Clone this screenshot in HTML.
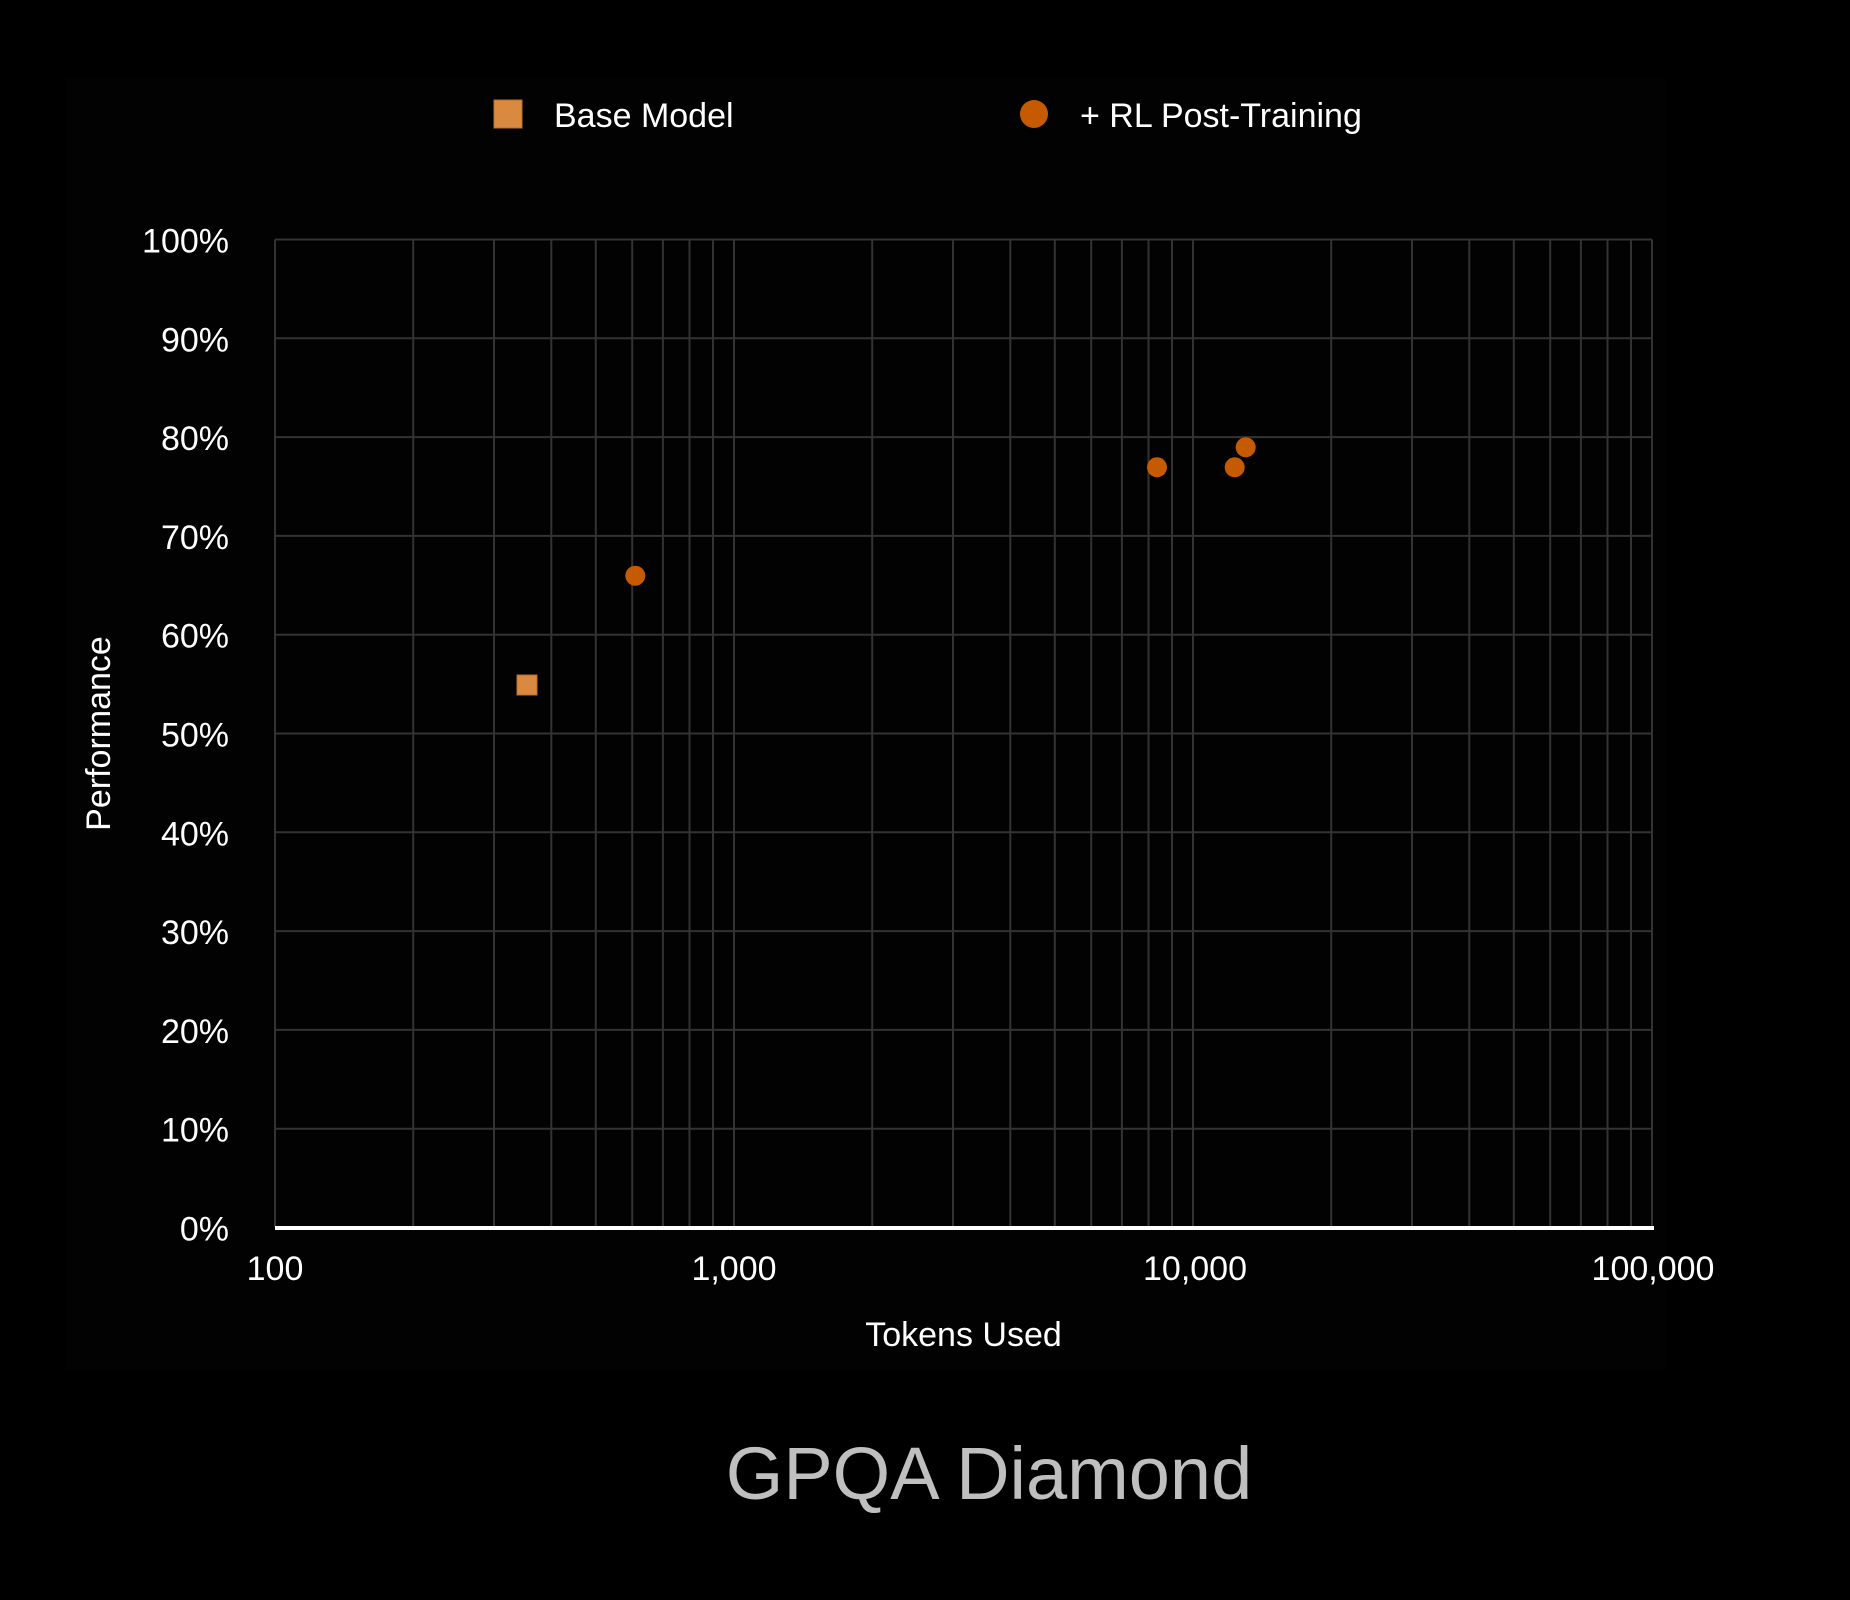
<!DOCTYPE html>
<html>
<head>
<meta charset="utf-8">
<style>
  html, body { margin:0; padding:0; background:#000; }
  svg { display:block; }
  text { font-family: "Liberation Sans", "DejaVu Sans", sans-serif; fill:#fff; }
</style>
</head>
<body>
<svg width="1850" height="1600" viewBox="0 0 1850 1600" xmlns="http://www.w3.org/2000/svg">
  <rect x="0" y="0" width="1850" height="1600" fill="#000"/>
  <rect x="66" y="78" width="1600" height="1292" fill="#020202"/>

  <!-- horizontal gridlines -->
  <g stroke="#333" stroke-width="2">
    <line x1="275" y1="239.5" x2="1652" y2="239.5"/>
    <line x1="275" y1="338.3" x2="1652" y2="338.3"/>
    <line x1="275" y1="437.1" x2="1652" y2="437.1"/>
    <line x1="275" y1="535.9" x2="1652" y2="535.9"/>
    <line x1="275" y1="634.7" x2="1652" y2="634.7"/>
    <line x1="275" y1="733.5" x2="1652" y2="733.5"/>
    <line x1="275" y1="832.3" x2="1652" y2="832.3"/>
    <line x1="275" y1="931.1" x2="1652" y2="931.1"/>
    <line x1="275" y1="1029.9" x2="1652" y2="1029.9"/>
    <line x1="275" y1="1128.7" x2="1652" y2="1128.7"/>
  </g>

  <!-- vertical gridlines (log scale, 459 px/decade, 100 at x=275) -->
  <g stroke="#333" stroke-width="2">
    <line x1="275" y1="239.5" x2="275" y2="1227"/>
    <line x1="413.2" y1="239.5" x2="413.2" y2="1227"/>
    <line x1="494" y1="239.5" x2="494" y2="1227"/>
    <line x1="551.3" y1="239.5" x2="551.3" y2="1227"/>
    <line x1="595.8" y1="239.5" x2="595.8" y2="1227"/>
    <line x1="632.2" y1="239.5" x2="632.2" y2="1227"/>
    <line x1="662.9" y1="239.5" x2="662.9" y2="1227"/>
    <line x1="689.5" y1="239.5" x2="689.5" y2="1227"/>
    <line x1="713" y1="239.5" x2="713" y2="1227"/>
    <line x1="734" y1="239.5" x2="734" y2="1227"/>
    <line x1="872.2" y1="239.5" x2="872.2" y2="1227"/>
    <line x1="953" y1="239.5" x2="953" y2="1227"/>
    <line x1="1010.3" y1="239.5" x2="1010.3" y2="1227"/>
    <line x1="1054.8" y1="239.5" x2="1054.8" y2="1227"/>
    <line x1="1091.2" y1="239.5" x2="1091.2" y2="1227"/>
    <line x1="1121.9" y1="239.5" x2="1121.9" y2="1227"/>
    <line x1="1148.5" y1="239.5" x2="1148.5" y2="1227"/>
    <line x1="1172" y1="239.5" x2="1172" y2="1227"/>
    <line x1="1193" y1="239.5" x2="1193" y2="1227"/>
    <line x1="1331.2" y1="239.5" x2="1331.2" y2="1227"/>
    <line x1="1412" y1="239.5" x2="1412" y2="1227"/>
    <line x1="1469.3" y1="239.5" x2="1469.3" y2="1227"/>
    <line x1="1513.8" y1="239.5" x2="1513.8" y2="1227"/>
    <line x1="1550.2" y1="239.5" x2="1550.2" y2="1227"/>
    <line x1="1580.9" y1="239.5" x2="1580.9" y2="1227"/>
    <line x1="1607.5" y1="239.5" x2="1607.5" y2="1227"/>
    <line x1="1631" y1="239.5" x2="1631" y2="1227"/>
    <line x1="1652" y1="239.5" x2="1652" y2="1227"/>
  </g>

  <!-- x axis -->
  <rect x="275" y="1226" width="1379" height="4" fill="#fff"/>

  <!-- y tick labels -->
  <g font-size="34" text-anchor="end">
    <text x="229" y="252.5">100%</text>
    <text x="229" y="351.3">90%</text>
    <text x="229" y="450.1">80%</text>
    <text x="229" y="548.9">70%</text>
    <text x="229" y="647.7">60%</text>
    <text x="229" y="746.5">50%</text>
    <text x="229" y="845.3">40%</text>
    <text x="229" y="944.1">30%</text>
    <text x="229" y="1042.9">20%</text>
    <text x="229" y="1141.7">10%</text>
    <text x="229" y="1240.5">0%</text>
  </g>

  <!-- x tick labels -->
  <g font-size="34" text-anchor="middle">
    <text x="275" y="1280">100</text>
    <text x="734" y="1280">1,000</text>
    <text x="1195" y="1280">10,000</text>
    <text x="1653" y="1280">100,000</text>
  </g>

  <!-- axis titles -->
  <text x="963.5" y="1346" font-size="34" text-anchor="middle">Tokens Used</text>
  <text x="0" y="0" font-size="34" text-anchor="middle" transform="translate(110,733.5) rotate(-90)">Performance</text>

  <!-- legend -->
  <rect x="494" y="100" width="28" height="28" fill="#D98A40" stroke="#B86E2C" stroke-width="1"/>
  <text x="554" y="127" font-size="34">Base Model</text>
  <circle cx="1034" cy="114" r="14" fill="#C55A00"/>
  <text x="1080" y="127" font-size="34">+ RL Post-Training</text>

  <!-- data -->
  <rect x="517" y="675" width="20" height="20" fill="#D98A40" stroke="#B86E2C" stroke-width="1"/>
  <circle cx="635.3" cy="575.7" r="10" fill="#C55A00"/>
  <circle cx="1157" cy="467.3" r="10" fill="#C55A00"/>
  <circle cx="1234.7" cy="467.3" r="10" fill="#C55A00"/>
  <circle cx="1245.7" cy="447.3" r="10" fill="#C55A00"/>

  <!-- title -->
  <text x="989" y="1499" font-size="74" text-anchor="middle" style="fill:#bfbfbf">GPQA Diamond</text>
</svg>
</body>
</html>
